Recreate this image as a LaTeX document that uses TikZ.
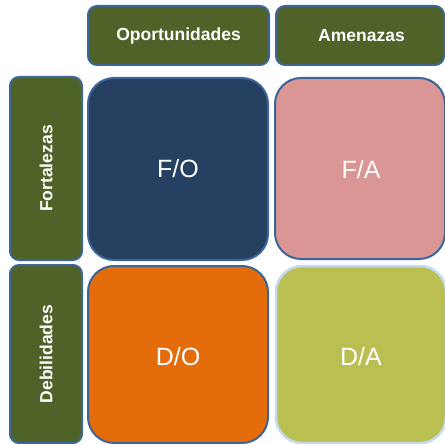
\documentclass[tikz,border=0pt]{standalone}
\usepackage{fontspec}
\setmainfont{Liberation Sans}
\definecolor{hdrgreen}{HTML}{4F6228}
\definecolor{bordblue}{HTML}{3C6598}
\definecolor{navy}{HTML}{254061}
\definecolor{pinkish}{HTML}{D99694}
\definecolor{orangec}{HTML}{E46C0A}
\definecolor{olivec}{HTML}{B9BF50}
\definecolor{lightbord}{HTML}{C6D9F0}
\begin{document}
\begin{tikzpicture}[x=1pt,y=1pt,
  hdr/.style={draw=bordblue,line width=2pt,fill=hdrgreen,rounded corners=9pt},
  cell/.style={draw=bordblue,line width=2pt,rounded corners=26pt},
  hdrtext/.style={text=white,font=\bfseries\fontsize{17.5}{20}\selectfont,inner sep=0pt},
  celltext/.style={text=white,font=\fontsize{25}{28}\selectfont,inner sep=0pt}]
\useasboundingbox (0,0) rectangle (445,-444);
% headers
\draw[hdr] (88,-6) rectangle (269,-65);
\node[hdrtext] (op) at (178.5,-36) {Oportunidades};
\draw[hdr] (276,-6) rectangle (444,-65);
\node[hdrtext] (am) at (361.5,-36) {Amenazas};
% side labels
\draw[hdr] (10,-77) rectangle (82,-260);
\node[hdrtext] (fo) at (46,-168.5) {\rotatebox{90}{Fortalezas}};
\draw[hdr] (10,-265) rectangle (82,-443);
\node[hdrtext] (de) at (46,-354) {\rotatebox{90}{Debilidades}};
% cells
\draw[cell,fill=navy] (88,-78) rectangle (268,-260);
\node[celltext] (FO) at (178,-169) {F/O};
\draw[cell,fill=pinkish] (275,-78) rectangle (445,-259);
\node[celltext] (FA) at (361,-170) {F/A};
\draw[cell,fill=orangec] (88,-266) rectangle (268,-443);
\node[celltext] (DO) at (178,-357) {D/O};
\draw[cell,draw=lightbord,line width=2.5pt,fill=olivec] (276,-266) rectangle (446,-443);
\node[celltext] (DA) at (361,-357) {D/A};
\end{tikzpicture}
\end{document}
